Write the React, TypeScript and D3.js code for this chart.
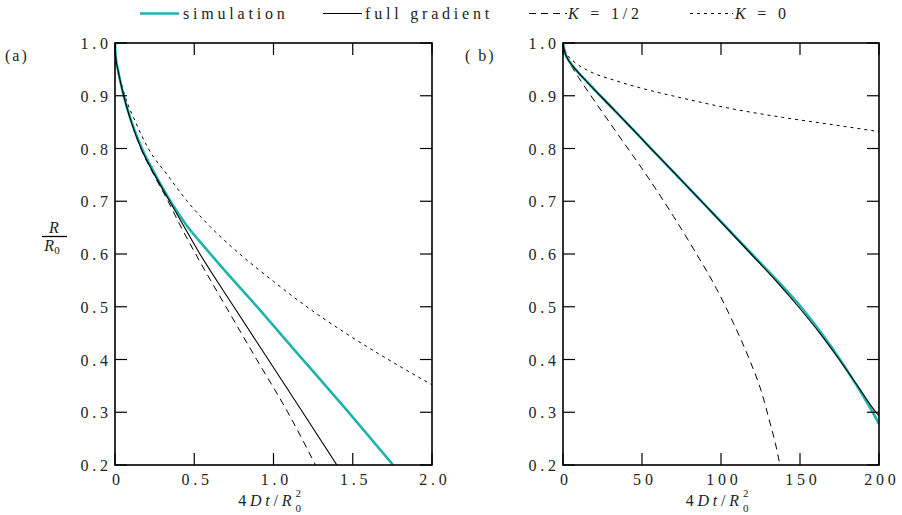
import React from 'react';
import * as d3 from 'd3';

// ---------- data ----------
const xTicksA = [0, 0.5, 1, 1.5, 2];
const xTickLabelsA = ['0', '0.5', '1.0', '1.5', '2.0'];
const xTicksB = [0, 50, 100, 150, 200];
const xTickLabelsB = ['0', '50', '100', '150', '200'];
const yTicks = [0.2, 0.3, 0.4, 0.5, 0.6, 0.7, 0.8, 0.9, 1.0];
const yTickLabels = ['0.2', '0.3', '0.4', '0.5', '0.6', '0.7', '0.8', '0.9', '1.0'];

// panel (a): [4Dt/R0^2, R/R0]
const simA: [number, number][] = [
  [0, 1], [0.004, 0.975], [0.018, 0.95], [0.055, 0.9], [0.105, 0.85], [0.17, 0.8],
  [0.255, 0.75], [0.35, 0.7], [0.45, 0.655], [0.56, 0.615], [0.7, 0.566], [0.876, 0.507],
  [1.17, 0.405], [1.465, 0.303], [1.755, 0.2],
];
const fullA: [number, number][] = [
  [0, 1], [0.004, 0.975], [0.018, 0.95], [0.055, 0.9], [0.103, 0.85], [0.165, 0.8],
  [0.25, 0.75], [0.345, 0.7], [0.43, 0.655], [0.52, 0.608], [0.75, 0.5], [0.967, 0.4],
  [1.184, 0.3], [1.4, 0.2],
];
const halfA: [number, number][] = [
  [0, 1], [0.004, 0.975], [0.018, 0.95], [0.055, 0.9], [0.102, 0.85], [0.163, 0.8],
  [0.245, 0.75], [0.335, 0.7], [0.41, 0.655], [0.494, 0.608], [0.7, 0.5], [0.894, 0.4],
  [1.09, 0.3], [1.265, 0.2],
];
const zeroA: [number, number][] = [
  [0, 1], [0.005, 0.975], [0.02, 0.95], [0.063, 0.9], [0.13, 0.85], [0.21, 0.8],
  [0.33, 0.75], [0.456, 0.7], [0.6, 0.652], [0.768, 0.605], [1.0, 0.548], [1.21, 0.5],
  [1.47, 0.447], [1.735, 0.398], [2.0, 0.352],
];

// panel (b)
const simB: [number, number][] = [
  [0, 1], [1, 0.984], [3, 0.97], [6, 0.957], [10, 0.943], [15, 0.927], [22, 0.905],
  [34, 0.868], [56, 0.799], [88, 0.699], [119.5, 0.6], [135.5, 0.55], [150.5, 0.5],
  [163.5, 0.45], [175.3, 0.4], [186, 0.35], [196, 0.3], [200, 0.278],
];
const fullB: [number, number][] = [
  [0, 1], [1, 0.984], [3, 0.97], [6, 0.957], [10, 0.943], [15, 0.927], [22, 0.905],
  [34, 0.868], [56, 0.799], [88, 0.699], [119, 0.6], [134.5, 0.55], [149, 0.5],
  [162.5, 0.45], [174.8, 0.4], [186.5, 0.35], [198, 0.3], [200, 0.293],
];
const halfB: [number, number][] = [
  [0, 1], [1, 0.984], [3, 0.969], [6, 0.953], [10, 0.934], [17, 0.903], [34, 0.83],
  [55, 0.74], [70, 0.671], [82.5, 0.61], [97, 0.535], [108, 0.468], [118, 0.4],
  [126, 0.335], [131, 0.28], [134.5, 0.24], [137.3, 0.2],
];
const zeroB: [number, number][] = [
  [0, 1], [1.5, 0.985], [4, 0.973], [8, 0.962], [15, 0.949], [34, 0.928], [50, 0.914],
  [72, 0.898], [104, 0.877], [139, 0.859], [171, 0.845], [200, 0.832],
];

const TEAL = '#1fb3ae';
const FONT = "'Liberation Serif', serif";
const FS = 16;
const LS = 3.8;

type SeriesDef = { data: [number, number][]; color: string; width: number; dash?: string };

const txt: React.CSSProperties = { fontFamily: FONT };

function Panel(props: {
  id: string;
  x0: number; x1: number; domain: [number, number];
  ticks: number[]; tickLabels: string[];
  series: SeriesDef[];
}) {
  const { id, x0, x1, domain, ticks, tickLabels, series } = props;
  const top = 43, bottom = 465;
  const x = d3.scaleLinear().domain(domain).range([x0, x1]);
  const y = d3.scaleLinear().domain([0.2, 1.0]).range([bottom, top]);
  const line = d3.line<[number, number]>()
    .x(d => x(d[0]))
    .y(d => y(d[1]))
    .curve(d3.curveMonotoneX);
  const tl = 12;
  const cx = (x0 + x1) / 2;
  return (
    <g>
      <defs>
        <clipPath id={`clip-${id}`}>
          <rect x={x0} y={top} width={x1 - x0} height={bottom - top} />
        </clipPath>
      </defs>
      <g clipPath={`url(#clip-${id})`}>
        {series.map((s, i) => (
          <path key={i} d={line(s.data) || ''} fill="none" stroke={s.color}
            strokeWidth={s.width} strokeDasharray={s.dash} />
        ))}
      </g>
      {ticks.map((t, i) => (
        <g key={'xt' + i}>
          <line x1={x(t)} x2={x(t)} y1={bottom} y2={bottom - tl} stroke="#000" strokeWidth={1.2} />
          <line x1={x(t)} x2={x(t)} y1={top} y2={top + tl} stroke="#000" strokeWidth={1.2} />
          <text x={x(t) + LS / 2 + 1} y={485} textAnchor="middle" fontSize={FS}
            style={txt} letterSpacing={LS} fill="#222">{tickLabels[i]}</text>
        </g>
      ))}
      {yTicks.map((t, i) => (
        <g key={'yt' + i}>
          <line x1={x0} x2={x0 + tl} y1={y(t)} y2={y(t)} stroke="#000" strokeWidth={1.2} />
          <line x1={x1} x2={x1 - tl} y1={y(t)} y2={y(t)} stroke="#000" strokeWidth={1.2} />
          <text x={x0 - 7 + LS} y={y(t) + 6} textAnchor="end" fontSize={FS}
            style={txt} letterSpacing={LS} fill="#222">{yTickLabels[i]}</text>
        </g>
      ))}
      <rect x={x0} y={top} width={x1 - x0} height={bottom - top} fill="none" stroke="#000" strokeWidth={1.6} />
      <text x={cx - 4} y={506} textAnchor="middle" fontSize={FS} style={txt} letterSpacing={LS} fill="#222">
        <tspan>4</tspan>
        <tspan fontStyle="italic">Dt</tspan>
        <tspan>/</tspan>
        <tspan fontStyle="italic">R</tspan>
        <tspan dy={-9} fontSize={11} letterSpacing={0}>2</tspan>
        <tspan dx={-5.5} dy={15} fontSize={11} letterSpacing={0}>0</tspan>
      </text>
    </g>
  );
}

export default function App() {
  const seriesA: SeriesDef[] = [
    { data: zeroA, color: '#000', width: 1, dash: '3,4' },
    { data: halfA, color: '#000', width: 1, dash: '7,5' },
    { data: simA, color: TEAL, width: 2.6 },
    { data: fullA, color: '#000', width: 1.1 },
  ];
  const seriesB: SeriesDef[] = [
    { data: zeroB, color: '#000', width: 1, dash: '3,4' },
    { data: halfB, color: '#000', width: 1, dash: '7,5' },
    { data: simB, color: TEAL, width: 2.6 },
    { data: fullB, color: '#000', width: 1.1 },
  ];
  return (
    <svg width={902} height={515} style={{ position: 'absolute', left: 0, top: 0, background: '#fff', fontFamily: FONT }}>
      <g fontSize={FS} fill="#222" letterSpacing={LS} style={txt}>
        <line x1={140} x2={179} y1={13.5} y2={13.5} stroke={TEAL} strokeWidth={2.6} />
        <text x={183} y={19} style={txt}>simulation</text>
        <line x1={323} x2={362} y1={13.5} y2={13.5} stroke="#000" strokeWidth={1.1} />
        <text x={365} y={19} style={txt}>full gradient</text>
        <line x1={529} x2={567} y1={13.5} y2={13.5} stroke="#000" strokeWidth={1} strokeDasharray="7,5" />
        <text x={568} y={19} style={txt}><tspan fontStyle="italic">K</tspan> = 1/2</text>
        <line x1={690} x2={733} y1={13.5} y2={13.5} stroke="#000" strokeWidth={1} strokeDasharray="3,4" />
        <text x={735} y={19} style={txt}><tspan fontStyle="italic">K</tspan> = 0</text>
      </g>
      <text x={5} y={61} fontSize={FS} letterSpacing={2} fill="#222" style={txt}>(a)</text>
      <text x={465} y={61} fontSize={FS} letterSpacing={2} fill="#222" style={txt}>( b)</text>
      <g fill="#222" fontSize={FS} style={txt}>
        <text x={54} y={233} textAnchor="middle" fontStyle="italic" style={txt}>R</text>
        <line x1={42} x2={67} y1={236.5} y2={236.5} stroke="#000" strokeWidth={1.3} />
        <text x={52} y={251} textAnchor="middle" style={txt}><tspan fontStyle="italic">R</tspan><tspan fontSize={11} dy={3}>0</tspan></text>
      </g>
      <Panel id="a" x0={115} x1={432} domain={[0, 2]} ticks={xTicksA} tickLabels={xTickLabelsA} series={seriesA} />
      <Panel id="b" x0={563} x1={879} domain={[0, 200]} ticks={xTicksB} tickLabels={xTickLabelsB} series={seriesB} />
    </svg>
  );
}
